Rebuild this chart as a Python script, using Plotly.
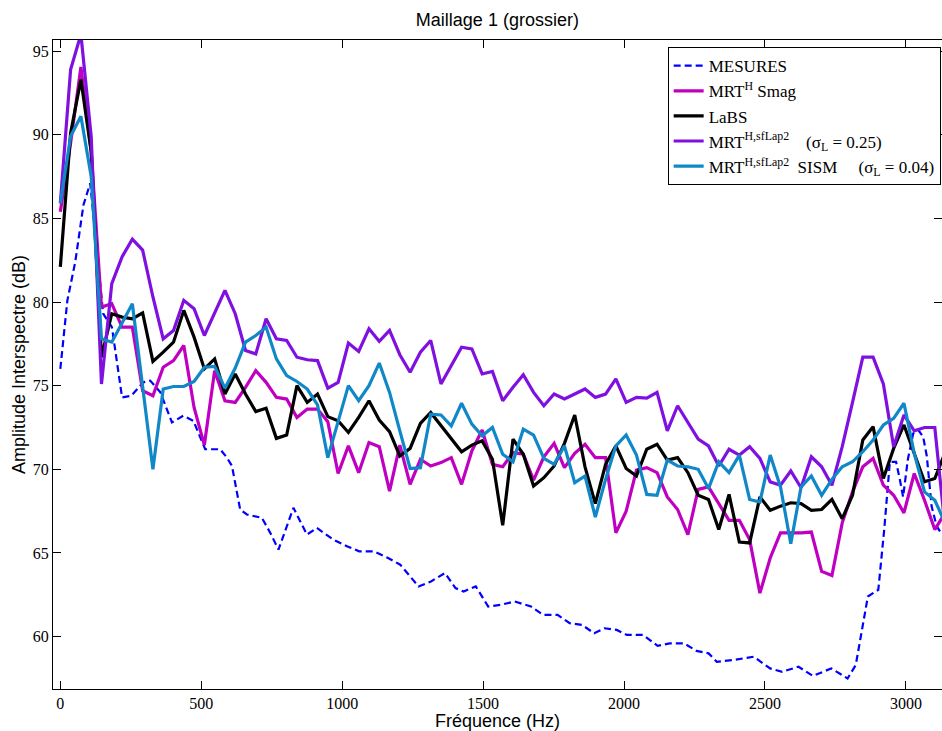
import plotly.graph_objects as go

# Frequency bins of the simulations (uniform FFT grid, ~36.5 Hz step)
bin_index = list(range(87))
BIN_HZ = 36.5
sim_freq = [i * BIN_HZ for i in bin_index]

# Measurements (own frequency support)
mes_freq = [0, 25, 53, 82, 106, 152, 183, 219, 252, 294, 319, 355, 396, 436, 472, 514, 567,
            591, 609, 638, 662, 715, 745, 774, 827, 875, 910, 968, 1017, 1060, 1112, 1163,
            1206, 1242, 1271, 1315, 1365, 1402, 1431, 1474, 1518, 1561, 1612, 1670, 1713,
            1764, 1807, 1851, 1894, 1931, 1974, 2010, 2068, 2119, 2162, 2213, 2257, 2300,
            2329, 2387, 2460, 2518, 2561, 2619, 2670, 2735, 2793, 2822, 2865, 2902, 2923,
            2943, 2965, 2979, 2990, 3007, 3026, 3044, 3061, 3074, 3091, 3109, 3128]
mesures = [76.0, 80.1, 82.4, 85.8, 87.1, 79.3, 78.5, 74.3, 74.4, 75.2, 75.3, 74.6, 72.8, 73.2,
           72.9, 71.2, 71.2, 70.7, 70.2, 67.6, 67.3, 67.1, 66.2, 65.2, 67.7, 66.1, 66.5, 65.8,
           65.4, 65.1, 65.1, 64.7, 64.3, 63.6, 63.0, 63.3, 63.8, 62.9, 62.7, 63.0, 61.8, 61.9,
           62.1, 61.8, 61.3, 61.3, 60.8, 60.7, 60.2, 60.5, 60.4, 60.1, 60.1, 59.45, 59.6, 59.6,
           59.15, 59.0, 58.5, 58.6, 58.8, 58.1, 57.9, 58.2, 57.65, 58.1, 57.5, 58.3, 62.4,
           62.8, 66.4, 70.45, 70.45, 69.35, 68.35, 70.6, 72.15, 72.35, 71.95, 70.8, 67.8,
           66.6, 66.1]

mrt_smag = [85.4, 89.5, 94.05, 89.0, 79.7, 79.9, 78.5, 78.5, 74.7, 74.4, 76.1, 76.5, 77.4,
            73.7, 71.45, 75.9, 74.1, 74.0, 74.9, 75.9, 75.2, 74.3, 74.2, 73.1, 73.6, 73.6,
            72.85, 69.75, 71.4, 69.8, 71.6, 71.35, 68.7, 71.45, 69.1, 70.6, 70.2, 70.4, 70.7,
            69.1, 71.1, 72.35, 70.3, 70.15, 71.0, 70.9, 69.35, 70.75, 71.55, 70.1, 70.95, 71.5,
            70.7, 70.7, 66.2, 67.5, 69.95, 70.1, 69.8, 68.35, 67.6, 66.1, 68.8, 68.95, 67.95,
            66.95, 66.95, 65.8, 62.6, 64.7, 66.2, 66.2, 66.2, 66.25, 63.9, 63.65, 66.8, 68.65,
            70.15, 70.65, 69.05, 68.45, 67.4, 69.75, 68.15, 66.4, 67.4]

labs = [82.1, 90.1, 93.3, 89.0, 76.7, 79.3, 79.1, 79.0, 79.35, 76.45, 77.0, 77.6, 79.5, 77.9,
        76.0, 76.6, 74.5, 75.7, 74.5, 73.45, 73.65, 71.85, 72.05, 75.0, 74.0, 74.5, 73.15,
        72.9, 72.2, 73.1, 74.1, 72.95, 72.25, 70.8, 71.25, 72.75, 73.4, 72.6, 71.85, 71.05,
        71.45, 71.7, 70.6, 66.65, 71.8, 70.9, 69.0, 69.5, 70.2, 71.55, 73.25, 70.15, 67.95,
        70.3, 71.4, 70.05, 69.6, 71.2, 71.5, 70.55, 70.7, 69.8, 68.45, 68.2, 66.4, 68.5,
        65.65, 65.6, 68.35, 67.55, 67.8, 68.0, 67.95, 67.55, 67.6, 68.2, 67.05, 68.45, 71.75,
        72.55, 69.45, 71.25, 72.65, 70.95, 69.25, 69.45, 71.0]

mrt_sflap2 = [85.9, 93.9, 96.0, 89.9, 75.1, 81.1, 82.7, 83.75, 83.1, 80.3, 77.8, 78.3, 80.1,
              79.6, 78.0, 79.3, 80.7, 79.3, 77.1, 76.9, 79.0, 77.8, 77.7, 76.7, 76.55, 76.5,
              74.85, 75.2, 77.55, 77.05, 78.4, 77.65, 78.3, 76.85, 75.8, 77.0, 77.7, 75.1,
              76.2, 77.3, 77.2, 75.7, 75.85, 74.1, 74.9, 75.65, 74.6, 73.8, 74.5, 74.2, 74.5,
              74.8, 74.3, 74.5, 75.4, 74.0, 74.3, 74.25, 74.6, 72.3, 73.8, 72.8, 71.8, 71.4,
              70.2, 71.2, 70.85, 71.35, 70.65, 69.25, 69.05, 69.9, 68.9, 70.75, 70.15, 69.05,
              71.35, 74.0, 76.7, 76.7, 75.1, 71.35, 73.25, 72.3, 72.5, 72.5, 66.5]

mrt_sism = [85.9, 89.9, 91.1, 87.5, 77.8, 77.6, 78.75, 79.9, 74.95, 70.0, 74.8, 74.95, 74.95,
            75.25, 76.1, 76.15, 74.85, 76.05, 77.6, 78.0, 78.5, 76.6, 75.6, 75.25, 74.8, 73.85,
            70.7, 72.9, 75.0, 74.1, 75.0, 76.35, 74.6, 72.3, 70.05, 70.1, 73.3, 73.25, 72.6,
            73.95, 72.7, 72.0, 72.5, 70.9, 70.45, 72.4, 72.05, 70.65, 70.3, 71.4, 69.2, 69.6,
            67.15, 69.4, 71.4, 72.05, 70.85, 68.5, 68.45, 70.55, 70.2, 70.15, 70.0, 68.85,
            70.45, 69.8, 70.85, 68.2, 68.05, 70.85, 68.95, 65.55, 68.95, 69.6, 68.45, 69.4,
            70.15, 70.45, 71.05, 71.75, 72.65, 73.05, 73.95, 70.95, 68.65, 68.15, 66.8]

x_ticks = [0, 500, 1000, 1500, 2000, 2500, 3000]
y_ticks = [60, 65, 70, 75, 80, 85, 90, 95]

NB = "\u00a0"
series = [
    ("MESURES", mes_freq, mesures, "#0000FF", 2.2, "7px,4px"),
    ("MRT<sup>H</sup>" + NB + "Smag", sim_freq, mrt_smag, "#C000C0", 3.2, "solid"),
    ("LaBS", sim_freq, labs, "#000000", 3.2, "solid"),
    ("MRT<sup>H,sfLap2</sup>" + NB * 4 + "(σ<sub>L</sub> = 0.25)", sim_freq, mrt_sflap2,
     "#8010E0", 3.2, "solid"),
    ("MRT<sup>H,sfLap2</sup>" + NB * 2 + "SISM" + NB * 5 + "(σ<sub>L</sub> = 0.04)", sim_freq,
     mrt_sism, "#1088C8", 3.2, "solid"),
]

fig = go.Figure()
for name, xs, ys, col, w, dash in series:
    fig.add_trace(go.Scatter(x=xs, y=ys, mode="lines", name=name,
                             line=dict(color=col, width=w, dash=dash)))

axis_common = dict(showline=True, linecolor="black", linewidth=1, mirror="allticks",
                   ticks="inside", ticklen=8, tickwidth=1, tickcolor="black",
                   showgrid=False, zeroline=False, automargin=False,
                   tickfont=dict(family="Liberation Serif", size=16, color="black"))

fig.update_layout(
    width=942, height=731,
    margin=dict(l=53, r=0, t=40, b=42, autoexpand=False),
    paper_bgcolor="white", plot_bgcolor="white",
    title=dict(text="Maillage 1 (grossier)", x=0.528, xanchor="center", y=1 - 20 / 731,
               yanchor="middle", font=dict(family="Liberation Sans", size=18, color="black")),
    showlegend=True,
    legend=dict(x=0.9985, xanchor="right", y=0.989, yanchor="top", bgcolor="white",
                bordercolor="black", borderwidth=1, tracegroupgap=0,
                font=dict(family="Liberation Serif", size=17, color="black")),
)
fig.update_xaxes(range=[-26, 3128], tickvals=x_ticks, ticktext=[str(v) for v in x_ticks],
                 title=dict(text="Fréquence (Hz)", standoff=0,
                            font=dict(family="Liberation Sans", size=18, color="black")),
                 **axis_common)
fig.update_yaxes(range=[56.87, 95.66], tickvals=y_ticks, ticktext=[str(v) for v in y_ticks],
                 title=dict(text="Amplitude Interspectre (dB)", standoff=2,
                            font=dict(family="Liberation Sans", size=18, color="black")),
                 **axis_common)

# remove the default page margin so the 942x731 figure fills the window exactly
fig.write_html("out.html", config={"displayModeBar": False},
               post_script="document.body.style.margin='0px';"
                           "document.documentElement.style.overflow='hidden';")
